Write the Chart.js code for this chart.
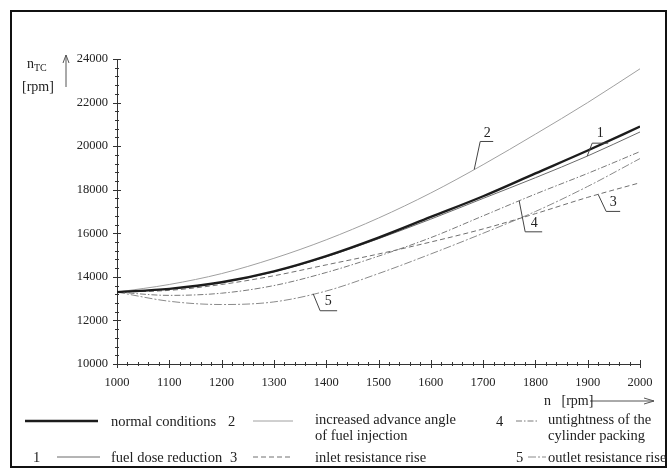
<!DOCTYPE html>
<html>
<head>
<meta charset="utf-8">
<script src="https://cdn.jsdelivr.net/npm/chart.js@4.4.1/dist/chart.umd.min.js"></script>
<style>
html, body { margin: 0; padding: 0; background: #fff; }
#wrap { position: relative; width: 672px; height: 469px; overflow: hidden;
        font-family: "Liberation Serif", "DejaVu Serif", serif; color: #222; }
#frame { position: absolute; left: 10px; top: 10px; width: 653px; height: 454px; border: 2px solid #111; }
#c, #leg { position: absolute; left: 0; top: 0; }
.t { position: absolute; white-space: nowrap; font-size: 14.5px; line-height: 14px; transform: translateY(-50%); }
sub { font-size: 10px; vertical-align: -3px; }
</style>
</head>
<body>
<div id="wrap">
  <div id="frame"></div>
  <canvas id="c" width="672" height="469"></canvas>
  <svg id="leg" width="672" height="469"></svg>
  <div class="t" style="left:27px;top:66px;font-size:14px">n<sub>TC</sub></div>
  <div class="t" style="left:22px;top:87px;font-size:14px">[rpm]</div>
  <div class="t" style="left:544px;top:401px;font-size:14px">n&nbsp;&nbsp;&nbsp;[rpm]</div>
  <div id="legtext"></div>
</div>
<script>
// engine speed n [rpm] and turbocharger speed n_TC [rpm]
const rpm = [1000, 1100, 1200, 1300, 1400, 1500, 1600, 1700, 1800, 1900, 2000];
const normalCond   = [13300, 13450, 13750, 14250, 14950, 15800, 16750, 17700, 18750, 19800, 20900];
const fuelDose     = [13300, 13450, 13740, 14230, 14920, 15750, 16650, 17600, 18550, 19550, 20650];
const advanceAngle = [13300, 13650, 14150, 14850, 15700, 16700, 17850, 19150, 20550, 22000, 23550];
const inletRes     = [13300, 13380, 13650, 14050, 14550, 15050, 15600, 16200, 16900, 17650, 18320];
const cylPacking   = [13300, 13150, 13250, 13600, 14200, 14950, 15800, 16800, 17800, 18750, 19750];
const outletRes    = [13300, 12880, 12730, 12850, 13350, 14150, 15050, 16000, 17000, 18150, 19430];

const yTicks = [10000, 12000, 14000, 16000, 18000, 20000, 22000, 24000];
const xTicks = [1000, 1100, 1200, 1300, 1400, 1500, 1600, 1700, 1800, 1900, 2000];

const seriesNames = ['normal conditions', 'fuel dose reduction', 'increased advance angle\nof fuel injection',
                     'inlet resistance rise', 'untightness of the\ncylinder packing', 'outlet resistance rise'];
const seriesNums = ['', '1', '2', '3', '4', '5'];

// callouts: series index and rpm the leader points at
const calloutSeries = [1, 2, 3, 4, 5];
const calloutRpm = [1899, 1683, 1920, 1769, 1375];

const styles = [
    { color: '#1c1c1c', width: 2.4, dash: [] },
    { color: '#6a6a6a', width: 1, dash: [] },
    { color: '#a0a0a0', width: 1, dash: [] },
    { color: '#707070', width: 1, dash: [5, 3] },
    { color: '#7a7a7a', width: 1, dash: [6, 2, 1.5, 2] },
    { color: '#8a8a8a', width: 1, dash: [8, 2, 2, 2] }
];

const allSeries = [normalCond, fuelDose, advanceAngle, inletRes, cylPacking, outletRes];

// legend placement (layout only)
const legendPos = [
    { num: null, x1: 25, x2: 98, tx: 111, y: 421 },
    { num: 33, x1: 57, x2: 100, tx: 111, y: 457 },
    { num: 228, x1: 253, x2: 293, tx: 315, y: 421 },
    { num: 230, x1: 253, x2: 293, tx: 315, y: 457 },
    { num: 496, x1: 516, x2: 538, tx: 548, y: 421 },
    { num: 516, x1: 528, x2: 546, tx: 548, y: 457 }
];

// leader offsets in px from the pointed spot: [knee dx, knee dy, bar end dx, text dx, text dy]
const calloutOffsets = [
    [5, -13, 21, 13, -23],
    [6, -28, 19, 13, -36],
    [8, 17, 22, 15, 8],
    [6, 31, 23, 15, 23],
    [7, 17, 24, 15, 8]
];

function valueAt(arr, r) {
    for (let i = 0; i < rpm.length - 1; i++) {
        if (r >= rpm[i] && r <= rpm[i + 1]) {
            const f = (r - rpm[i]) / (rpm[i + 1] - rpm[i]);
            return arr[i] + f * (arr[i + 1] - arr[i]);
        }
    }
    return arr[arr.length - 1];
}

const decor = {
    id: 'decor',
    afterDraw(chart) {
        const ctx = chart.ctx;
        const xs = chart.scales.x, ys = chart.scales.y;
        const area = chart.chartArea;
        ctx.save();
        ctx.strokeStyle = '#333';
        ctx.lineWidth = 1;
        ctx.beginPath();
        for (let v = 10000; v <= 24000; v += 400) {
            const y = Math.round(ys.getPixelForValue(v)) + 0.5;
            const len = yTicks.includes(v) ? 4 : 2;
            ctx.moveTo(area.left - len, y);
            ctx.lineTo(area.left + len, y);
        }
        for (let v = 1000; v <= 2000; v += 20) {
            const x = Math.round(xs.getPixelForValue(v)) + 0.5;
            const len = xTicks.includes(v) ? 4 : 2;
            ctx.moveTo(x, area.bottom - len);
            ctx.lineTo(x, area.bottom + len);
        }
        ctx.stroke();

        // axis arrows
        ctx.strokeStyle = '#555';
        ctx.beginPath();
        const ax = area.left - 51;
        ctx.moveTo(ax, area.top + 28); ctx.lineTo(ax, area.top - 4);
        ctx.moveTo(ax - 3, area.top + 4); ctx.lineTo(ax, area.top - 4); ctx.lineTo(ax + 3, area.top + 4);
        const ay = area.bottom + 37;
        ctx.moveTo(area.right - 50, ay); ctx.lineTo(area.right + 14, ay);
        ctx.moveTo(area.right + 4, ay - 3); ctx.lineTo(area.right + 14, ay); ctx.lineTo(area.right + 4, ay + 3);
        ctx.stroke();

        // numbered callouts
        ctx.strokeStyle = '#444';
        ctx.fillStyle = '#222';
        ctx.font = '14px "Liberation Serif"';
        ctx.textAlign = 'center';
        ctx.textBaseline = 'middle';
        calloutSeries.forEach((s, i) => {
            const px = xs.getPixelForValue(calloutRpm[i]);
            const py = ys.getPixelForValue(valueAt(allSeries[s], calloutRpm[i]));
            const o = calloutOffsets[i];
            ctx.beginPath();
            ctx.moveTo(px, py);
            ctx.lineTo(px + o[0], py + o[1]);
            ctx.lineTo(px + o[2], py + o[1]);
            ctx.stroke();
            ctx.fillText(seriesNums[s], px + o[3], py + o[4]);
        });
        ctx.restore();
    }
};

new Chart(document.getElementById('c'), {
    type: 'line',
    data: {
        datasets: allSeries.map((arr, i) => ({
            label: seriesNames[i],
            data: rpm.map((r, k) => ({ x: r, y: arr[k] })),
            borderColor: styles[i].color,
            borderWidth: styles[i].width,
            borderDash: styles[i].dash,
            pointRadius: 0,
            fill: false,
            cubicInterpolationMode: 'monotone'
        }))
    },
    options: {
        responsive: false,
        devicePixelRatio: 1,
        animation: false,
        layout: { padding: { left: 67, right: 32, top: 59, bottom: 75 } },
        plugins: { legend: { display: false }, tooltip: { enabled: false } },
        scales: {
            x: {
                type: 'linear', min: 1000, max: 2000,
                afterFit: s => { s.height = 30; },
                afterBuildTicks: s => { s.ticks = xTicks.map(v => ({ value: v })); },
                grid: { display: false, drawTicks: false },
                border: { display: true, color: '#333', width: 1 },
                ticks: { padding: 11, color: '#222', maxRotation: 0, autoSkip: false,
                         font: { family: 'Liberation Serif', size: 12.5 }, callback: v => String(v) }
            },
            y: {
                type: 'linear', min: 10000, max: 24000,
                afterFit: s => { s.width = 50; },
                afterBuildTicks: s => { s.ticks = yTicks.map(v => ({ value: v })); },
                grid: { display: false, drawTicks: false },
                border: { display: true, color: '#333', width: 1 },
                ticks: { padding: 9, color: '#222',
                         font: { family: 'Liberation Serif', size: 12.5 }, callback: v => String(v) }
            }
        }
    },
    plugins: [decor]
});

// legend: sample lines in svg, labels as html text
const svg = document.getElementById('leg');
const lt = document.getElementById('legtext');
legendPos.forEach((p, i) => {
    const ln = document.createElementNS('http://www.w3.org/2000/svg', 'line');
    ln.setAttribute('x1', p.x1); ln.setAttribute('x2', p.x2);
    ln.setAttribute('y1', p.y); ln.setAttribute('y2', p.y);
    ln.setAttribute('stroke', styles[i].color);
    ln.setAttribute('stroke-width', styles[i].width);
    if (styles[i].dash.length) ln.setAttribute('stroke-dasharray', styles[i].dash.join(' '));
    svg.appendChild(ln);
    if (p.num !== null) {
        const n = document.createElement('div');
        n.className = 't';
        n.style.left = p.num + 'px'; n.style.top = p.y + 'px';
        n.textContent = seriesNums[i];
        lt.appendChild(n);
    }
    seriesNames[i].split('\n').forEach((line, k) => {
        const d = document.createElement('div');
        d.className = 't';
        d.style.left = p.tx + 'px'; d.style.top = (p.y - (k === 0 && seriesNames[i].includes('\n') ? 2 : 0) + k * 14) + 'px';
        d.textContent = line;
        lt.appendChild(d);
    });
});
</script>
</body>
</html>
